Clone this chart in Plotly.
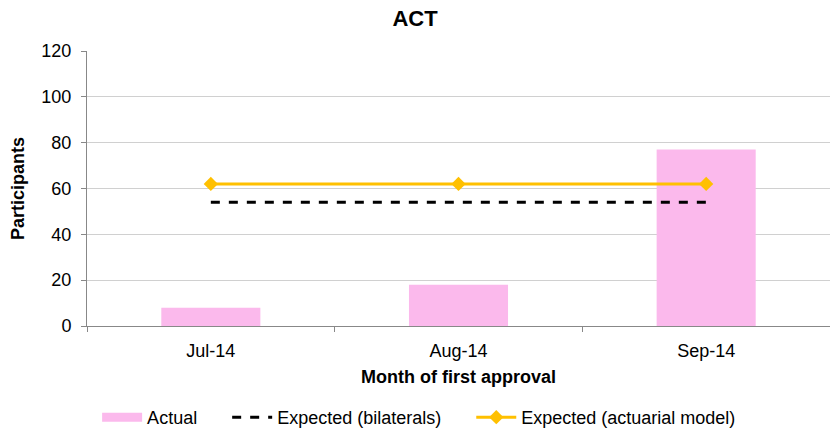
import plotly.graph_objects as go

months = ["Jul-14", "Aug-14", "Sep-14"]
actual = [8, 18, 77]
expected_bilaterals = [54, 54, 54]
expected_actuarial = [62, 62, 62]

FONT = "Liberation Sans, Arial, sans-serif"
PINK = "#FBB9EC"
ORANGE = "#FFC000"

fig = go.Figure()
fig.add_trace(go.Bar(x=months, y=actual, name="Actual", showlegend=False,
                     marker=dict(color=PINK, line=dict(width=0)), width=0.4))
# legend proxy for the bar series (wide flat swatch as in the reference)
fig.add_trace(go.Scatter(x=[None], y=[None], name="Actual" + "&nbsp;" * 5, mode="lines",
                         line=dict(color=PINK, width=9)))
fig.add_trace(go.Scatter(x=months, y=expected_bilaterals,
                         name="Expected (bilaterals)" + "&nbsp;" * 5,
                         mode="lines", line=dict(color="black", width=3, dash="dash")))
fig.add_trace(go.Scatter(x=months, y=expected_actuarial, name="Expected (actuarial model)",
                         mode="lines+markers", line=dict(color=ORANGE, width=3),
                         marker=dict(symbol="diamond", size=11, color=ORANGE)))

fig.update_layout(
    width=830, height=436,
    margin=dict(l=87, r=0, t=51, b=110),
    paper_bgcolor="white", plot_bgcolor="white",
    font=dict(family=FONT, size=18, color="black"),
    title=dict(text="<b>ACT</b>", x=0.5, xanchor="center", y=0.958, yanchor="middle",
               font=dict(size=22, family=FONT)),
    showlegend=True,
    legend=dict(orientation="h", x=0.447, xanchor="center", y=-0.335, yanchor="middle",
                font=dict(size=18), traceorder="normal", itemwidth=40),
    bargap=0.6,
)
fig.update_xaxes(
    type="category", showline=True, linecolor="#888888", linewidth=1,
    ticks="outside", tickson="boundaries", ticklen=5, tickcolor="#888888",
    showgrid=False, ticklabelstandoff=8,
    title=dict(text="<b>Month of first approval</b>", font=dict(size=18), standoff=10),
)
fig.update_yaxes(
    range=[0, 120], dtick=20, showline=True, linecolor="#888888", linewidth=1,
    ticks="outside", ticklen=5, tickcolor="#888888", ticklabelstandoff=6,
    showgrid=True, gridcolor="#D0D0D0", gridwidth=1, zeroline=False,
    title=dict(text="<b>Participants</b>", font=dict(size=18), standoff=12),
)

fig.write_html("out.html")
